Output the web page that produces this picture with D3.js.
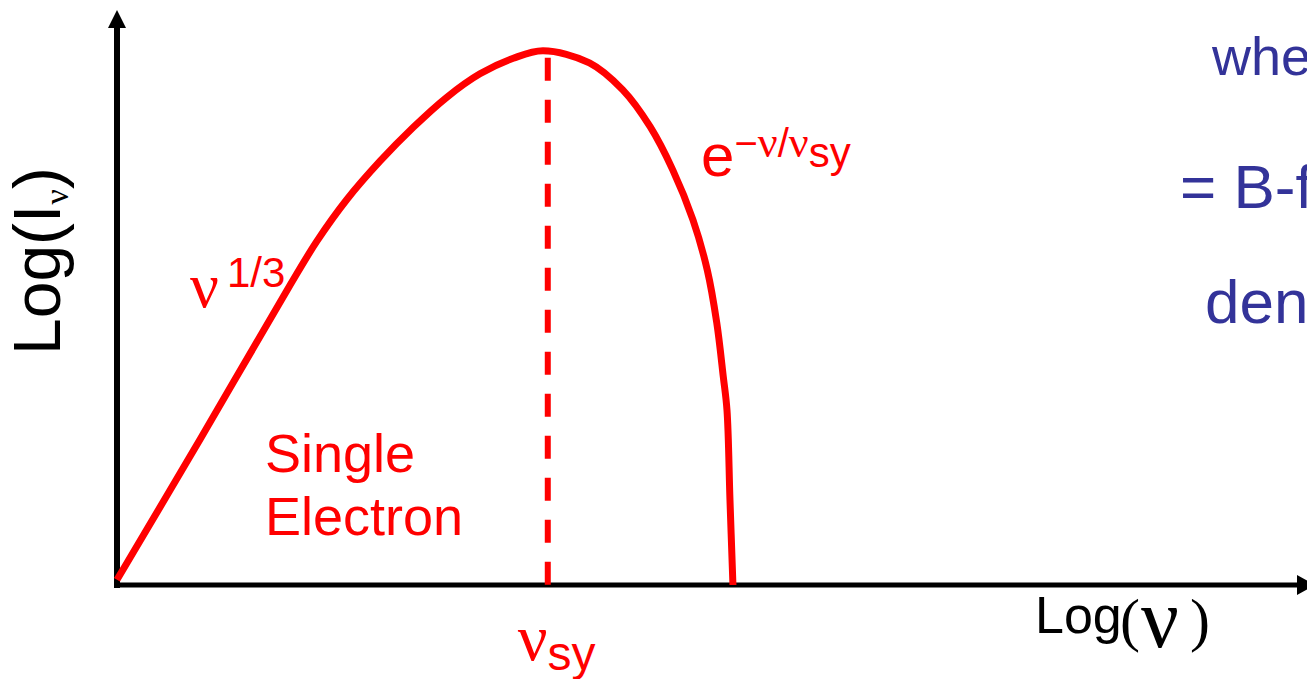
<!DOCTYPE html>
<html>
<head>
<meta charset="utf-8">
<script src="https://cdn.jsdelivr.net/npm/d3@7"></script>
<style>
  html, body { margin: 0; padding: 0; background: #fff; overflow: hidden; }
  svg { display: block; }
</style>
</head>
<body>
<svg id="chart" width="1307" height="679"></svg>
<script>
// Single-electron synchrotron spectrum on log–log axes (arbitrary units)
const logNu = [0, 0.70, 1.45, 1.68, 1.93, 2.21, 2.49, 2.77, 3.05, 3.33, 3.58,
               3.97, 4.25, 4.48, 4.67, 4.84, 4.96, 5.04, 5.095, 5.126, 5.151, 5.176];
const logI  = [0.09, 2.54, 5.20, 5.98, 6.70, 7.37, 7.96, 8.48, 8.89, 9.16, 9.29,
               9.08, 8.61, 7.97, 7.22, 6.35, 5.48, 4.56, 3.62, 3.04, 1.48, 0];
const nuSy = 3.62;          // characteristic synchrotron frequency
const nuSyMarkTop = 9.17;   // top of the dashed marker at nu_sy

const xDomain = [0, 10];
const yDomain = [0, 10];

const RED = "#ff0000";
const BLUE = "#333399";
const SANS = "'Liberation Sans', Arial, sans-serif";
const SERIF = "'Liberation Serif', 'Times New Roman', serif";

const svg = d3.select("#chart");
const x = d3.scaleLinear().domain(xDomain).range([117, 1307]);
const y = d3.scaleLinear().domain(yDomain).range([585, 10]);

// ---- axes with arrow heads ----
const axes = svg.append("g");
axes.append("line")
  .attr("x1", x(0) - 3).attr("x2", x(10) - 8)
  .attr("y1", y(0)).attr("y2", y(0))
  .attr("stroke", "#000").attr("stroke-width", 5);
axes.append("path")
  .attr("d", `M${x(10) - 10},${y(0) - 10} L${x(10) + 8},${y(0)} L${x(10) - 10},${y(0) + 10} Z`)
  .attr("fill", "#000");
axes.append("line")
  .attr("x1", x(0)).attr("x2", x(0))
  .attr("y1", y(0) + 3).attr("y2", y(10) + 16)
  .attr("stroke", "#000").attr("stroke-width", 6);
axes.append("path")
  .attr("d", `M${x(0) - 9},${y(10) + 18} L${x(0)},${y(10)} L${x(0) + 9},${y(10) + 18} Z`)
  .attr("fill", "#000");

// ---- dashed marker at nu_sy ----
svg.append("line")
  .attr("x1", x(nuSy)).attr("x2", x(nuSy))
  .attr("y1", y(nuSyMarkTop)).attr("y2", y(0))
  .attr("stroke", RED).attr("stroke-width", 6)
  .attr("stroke-dasharray", "23,19");

// ---- spectrum curve ----
const pts = logNu.map((v, i) => [v, logI[i]]);
const line = d3.line()
  .x(d => x(d[0])).y(d => y(d[1]))
  .curve(d3.curveCatmullRom.alpha(0.5));
svg.append("path")
  .datum(pts)
  .attr("d", line)
  .attr("fill", "none")
  .attr("stroke", RED).attr("stroke-width", 7)
  .attr("stroke-linejoin", "round");

// ---- axis titles ----
const yt = svg.append("text")
  .attr("transform", "translate(60,355) rotate(-90)")
  .attr("font-family", SANS).attr("font-size", 66).attr("fill", "#000");
yt.append("tspan").text("Log(I");
yt.append("tspan").attr("font-family", SERIF).attr("font-size", 34).attr("dy", 8).text("ν");
yt.append("tspan").attr("dy", -8).text(")");

const xt = svg.append("g").attr("fill", "#000");
xt.append("text").attr("x", 1035).attr("y", 633)
  .attr("font-family", SANS).attr("font-size", 52).text("Log");
xt.append("text").attr("x", 1120).attr("y", 640)
  .attr("font-family", SERIF).attr("font-size", 60).text("(");
xt.append("text").attr("x", 1141).attr("y", 647)
  .attr("font-family", SERIF).attr("font-size", 84).text("ν");
xt.append("text").attr("x", 1190).attr("y", 640)
  .attr("font-family", SERIF).attr("font-size", 60).text(")");

// ---- annotations ----
const lowLab = svg.append("text").attr("x", 190).attr("y", 307).attr("fill", RED);
lowLab.append("tspan").attr("font-family", SERIF).attr("font-size", 64).text("ν");
lowLab.append("tspan").attr("font-family", SANS).attr("font-size", 42)
  .attr("x", 227).attr("dy", -20).text("1/3");

const hiLab = svg.append("text").attr("x", 701).attr("y", 176).attr("fill", RED);
hiLab.append("tspan").attr("font-family", SANS).attr("font-size", 60).text("e");
hiLab.append("tspan").attr("font-family", SANS).attr("font-size", 40).attr("dy", -19).text("−");
hiLab.append("tspan").attr("font-family", SERIF).attr("font-size", 44).text("ν");
hiLab.append("tspan").attr("font-family", SANS).attr("font-size", 40).text("/");
hiLab.append("tspan").attr("font-family", SERIF).attr("font-size", 44).text("ν");
hiLab.append("tspan").attr("font-family", SANS).attr("font-size", 42).attr("dy", 10).text("sy");

const peakLab = svg.append("text").attr("x", x(nuSy) - 30).attr("y", 660).attr("fill", RED);
peakLab.append("tspan").attr("font-family", SERIF).attr("font-size", 66).text("ν");
peakLab.append("tspan").attr("font-family", SANS).attr("font-size", 48).attr("dy", 10).text("sy");

svg.append("text").attr("x", 265).attr("y", 472)
  .attr("font-family", SANS).attr("font-size", 54).attr("fill", RED).text("Single");
svg.append("text").attr("x", 265).attr("y", 535)
  .attr("font-family", SANS).attr("font-size", 54).attr("fill", RED).text("Electron");

// ---- side text (runs off the right edge) ----
const side = svg.append("g").attr("font-family", SANS).attr("fill", BLUE);
side.append("text").attr("x", 1212).attr("y", 75).attr("font-size", 54).text("whe");
side.append("text").attr("x", 1180).attr("y", 208).attr("font-size", 62).text("= B-f");
side.append("text").attr("x", 1205).attr("y", 323).attr("font-size", 62).text("den");
</script>
</body>
</html>
